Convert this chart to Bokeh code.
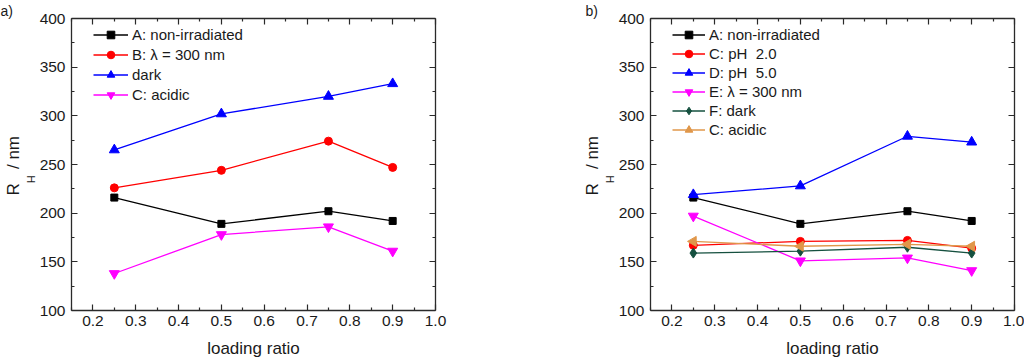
import math
from bokeh.plotting import figure
from bokeh.models import (LinearAxis, FixedTicker, PrintfTickFormatter, Legend,
                          LegendItem, Title)
from bokeh.layouts import row
from bokeh.embed import file_html
from bokeh.resources import INLINE

# ---------------- data ----------------
loading = [0.25, 0.5, 0.75, 0.9]

# panel a
a_nonirr = [216, 189, 202, 192]
a_b300 = [226, 244, 274, 247]
a_dark = [265, 302, 320, 333]
a_acidic = [138, 178, 186, 161]

# panel b
b_nonirr = [216, 189, 202, 192]
b_ph2 = [167, 171, 172, 164]
b_ph5 = [219, 228, 279, 273]
b_e300 = [197, 151, 154, 141]
b_fdark = [159, 161, 165, 159]
b_cacid = [171, 166, 168, 166]

x_ticks = [0.2, 0.3, 0.4, 0.5, 0.6, 0.7, 0.8, 0.9, 1.0]
x_minor = [0.15, 0.25, 0.35, 0.45, 0.55, 0.65, 0.75, 0.85, 0.95]
y_ticks = [100, 150, 200, 250, 300, 350, 400]
y_minor = [125, 175, 225, 275, 325, 375]

FONT = "Liberation Sans"
X0, X1, Y0, Y1 = 0.15, 1.0, 100, 400
FW, FH = 364, 293          # frame size in px
TOP = 17                   # top border
H = 360
TXT = "#1a1a1a"
NB = "\u00a0"


def style_axis(ax, show_labels=True):
    ax.axis_line_color = "#2a2a2a"
    ax.axis_line_width = 1.3
    ax.major_tick_line_color = "#2a2a2a"
    ax.minor_tick_line_color = "#2a2a2a"
    ax.major_tick_line_width = 1.2
    ax.minor_tick_line_width = 1.2
    ax.major_tick_in = 6
    ax.major_tick_out = 0
    ax.minor_tick_in = 3
    ax.minor_tick_out = 0
    if show_labels:
        ax.major_label_text_font = FONT
        ax.major_label_text_font_size = "15.5px"
        ax.major_label_text_color = TXT
    else:
        ax.major_label_text_font_size = "0px"
        ax.major_label_text_color = None
        ax.major_label_standoff = 0


def make_panel(width, left_border, series, legend_y_off, spacing,
               glyph_w, panel_label, panel_label_dx):
    p = figure(width=width, height=H, x_range=(X0, X1), y_range=(Y0, Y1),
               output_backend="svg", toolbar_location=None,
               min_border_left=left_border, min_border_right=width - left_border - FW,
               min_border_top=TOP, min_border_bottom=H - TOP - FH,
               x_axis_type=None, y_axis_type=None)
    p.outline_line_color = None
    p.xgrid.visible = False
    p.ygrid.visible = False
    p.background_fill_color = "white"
    p.border_fill_color = "white"

    xt = FixedTicker(ticks=x_ticks, minor_ticks=x_minor)
    yt = FixedTicker(ticks=y_ticks, minor_ticks=y_minor)

    xb = LinearAxis(ticker=xt, formatter=PrintfTickFormatter(format="%.1f"))
    style_axis(xb)
    xb.major_label_standoff = 5
    xb.axis_label = "loading ratio"
    xb.axis_label_text_font = FONT
    xb.axis_label_text_font_size = "17px"
    xb.axis_label_text_font_style = "normal"
    xb.axis_label_text_color = TXT
    xb.axis_label_standoff = 10
    p.add_layout(xb, "below")

    yl = LinearAxis(ticker=yt)
    style_axis(yl)
    yl.major_label_standoff = 6
    p.add_layout(yl, "left")

    xa = LinearAxis(ticker=xt)
    style_axis(xa, show_labels=False)
    p.add_layout(xa, "above")
    yr = LinearAxis(ticker=yt)
    style_axis(yr, show_labels=False)
    p.add_layout(yr, "right")

    # y-axis title "R_H / nm": subscript H next to the axis, the rest outside it
    t_h = Title(text="H", align="left", offset=115 + 12.3, standoff=0,
                text_font=FONT, text_font_size="11px", text_font_style="normal",
                text_color=TXT)
    p.add_layout(t_h, "left")
    t_r = Title(text="R" + NB + NB + NB + "/ nm", align="left", offset=115, standoff=0,
                text_font=FONT, text_font_size="17px", text_font_style="normal",
                text_color=TXT)
    p.add_layout(t_r, "left")

    # panel label
    t_p = Title(text=panel_label, align="left", offset=panel_label_dx, standoff=0,
                text_font=FONT, text_font_size="14px", text_font_style="normal",
                text_color=TXT)
    p.add_layout(t_p, "above")

    items = []
    for label, ys, color, marker, size, angle in series:
        lr = p.line(loading, ys, line_color=color, line_width=1.3)
        sr = p.scatter(loading, ys, marker=marker, size=size, angle=angle,
                       fill_color=color, line_color=color)
        items.append(LegendItem(label=label, renderers=[lr, sr]))

    n = len(items)
    item_h = 19
    leg_h = n * item_h + (n - 1) * spacing
    leg = Legend(items=items, location=(22, FH - legend_y_off - leg_h),
                 padding=0, margin=0, spacing=spacing,
                 glyph_width=glyph_w, glyph_height=item_h, label_height=item_h,
                 label_standoff=4, border_line_color=None,
                 background_fill_alpha=0,
                 label_text_font=FONT, label_text_font_size="15px",
                 label_text_color=TXT)
    p.add_layout(leg)
    return p


series_a = [
    ("A: non-irradiated", a_nonirr, "#000000", "square", 7, 0),
    ("B: λ = 300 nm", a_b300, "#ff0000", "circle", 8, 0),
    ("dark", a_dark, "#0000ff", "triangle", 10, 0),
    ("C: acidic", a_acidic, "#ff00ff", "inverted_triangle", 10, 0),
]
series_b = [
    ("A: non-irradiated", b_nonirr, "#000000", "square", 7, 0),
    ("C: pH  2.0", b_ph2, "#ff0000", "circle", 8, 0),
    ("D: pH  5.0", b_ph5, "#0000ff", "triangle", 10, 0),
    ("E: λ = 300 nm", b_e300, "#ff00ff", "inverted_triangle", 10, 0),
    ("F: dark", b_fdark, "#15503f", "diamond", 10, 0),
    ("C: acidic", b_cacid, "#e0974a", "triangle", 10, math.pi / 2),
]

p1 = make_panel(512, 71, series_a, 7.5, 1, 35, "a)", -71)
p2 = make_panel(512, 138, series_b, 7.5, 0, 33, "b)", -65)

layout = row(p1, p2)
open("out.html", "w").write(file_html(layout, INLINE))
